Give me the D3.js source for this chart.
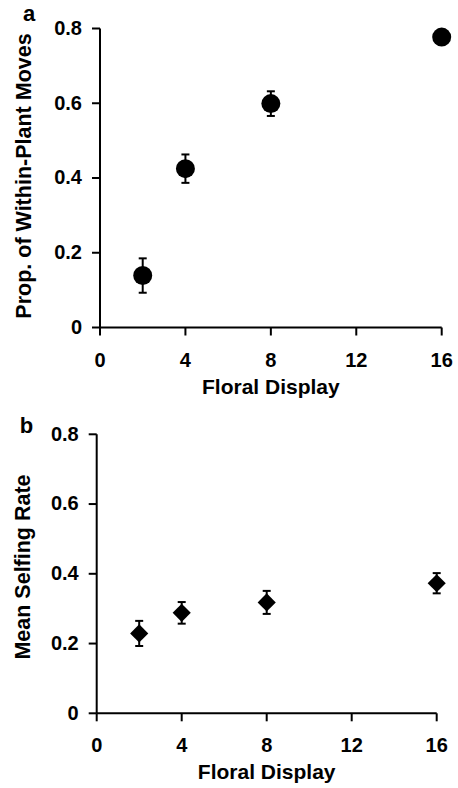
<!DOCTYPE html>
<html>
<head>
<meta charset="utf-8">
<script src="https://cdn.jsdelivr.net/npm/d3@7"></script>
<style>
  body { margin: 0; background: #fff; }
  svg text { font-family: "Liberation Sans", Arial, Helvetica, sans-serif; font-weight: bold; fill: #000; }
</style>
</head>
<body>
<svg id="chart" width="458" height="788"></svg>
<script>
// floral display (flowers per plant) on the x axis
const displaySizes = [2, 4, 8, 16];
const xTicks = [0, 4, 8, 12, 16];
const yTicks = [0, 0.2, 0.4, 0.6, 0.8];

// panel a: proportion of within-plant moves (mean +- se)
const withinPlantMoves = [0.139, 0.425, 0.599, 0.777];
const withinPlantErr = [0.046, 0.038, 0.033, 0.012];

// panel b: mean selfing rate (mean +- se)
const selfingRate = [0.229, 0.288, 0.318, 0.373];
const selfingErr = [0.036, 0.031, 0.033, 0.029];

const svg = d3.select('#chart');

function drawPanel(opt) {
  const x = d3.scaleLinear().domain([0, 16]).range([opt.left, opt.right]);
  const y = d3.scaleLinear().domain([0, 0.8]).range([opt.bottom, opt.top]);
  const g = svg.append('g');

  const xAxis = g.append('g')
    .attr('transform', `translate(0,${opt.bottom})`)
    .call(d3.axisBottom(x).tickValues(xTicks).tickSize(8).tickPadding(17).tickSizeOuter(0).offset(0));

  const yAxis = g.append('g')
    .attr('transform', `translate(${opt.left},0)`)
    .call(d3.axisLeft(y).tickValues(yTicks)
      .tickFormat(d => d === 0 ? '0' : d3.format('.1f')(d))
      .tickSize(8).tickPadding(10).tickSizeOuter(0).offset(0));

  [xAxis, yAxis].forEach(a => {
    a.select('.domain').attr('stroke', '#000').attr('stroke-width', 2);
    a.selectAll('.tick line').attr('stroke', '#000').attr('stroke-width', 2);
    a.selectAll('.tick text').style('font-size', '20px').attr('fill', '#000');
  });

  const pts = displaySizes.map((d, i) => ({ x: d, v: opt.values[i], e: opt.errors[i] }));

  // error bars
  const eb = g.append('g').attr('stroke', '#000').attr('stroke-width', 2);
  eb.selectAll('line.stem').data(pts).join('line')
    .attr('class', 'stem')
    .attr('x1', d => x(d.x)).attr('x2', d => x(d.x))
    .attr('y1', d => y(d.v - d.e)).attr('y2', d => y(d.v + d.e));
  eb.selectAll('line.cap-hi').data(pts).join('line')
    .attr('class', 'cap-hi')
    .attr('x1', d => x(d.x) - 4).attr('x2', d => x(d.x) + 4)
    .attr('y1', d => y(d.v + d.e)).attr('y2', d => y(d.v + d.e));
  eb.selectAll('line.cap-lo').data(pts).join('line')
    .attr('class', 'cap-lo')
    .attr('x1', d => x(d.x) - 4).attr('x2', d => x(d.x) + 4)
    .attr('y1', d => y(d.v - d.e)).attr('y2', d => y(d.v - d.e));

  // markers
  if (opt.marker === 'circle') {
    g.selectAll('circle.pt').data(pts).join('circle')
      .attr('class', 'pt')
      .attr('cx', d => x(d.x)).attr('cy', d => y(d.v))
      .attr('r', 9.5).attr('fill', '#000');
  } else {
    const diamond = d3.symbol(d3.symbolSquare).size(165);
    g.selectAll('path.pt').data(pts).join('path')
      .attr('class', 'pt')
      .attr('d', diamond)
      .attr('transform', d => `translate(${x(d.x)},${y(d.v)}) rotate(45)`)
      .attr('fill', '#000');
  }

  // axis titles
  g.append('text')
    .attr('x', (opt.left + opt.right) / 2)
    .attr('y', opt.bottom + 66)
    .attr('text-anchor', 'middle')
    .style('font-size', '21px')
    .text('Floral Display');

  g.append('text')
    .attr('transform', `translate(${opt.yTitleX},${opt.yTitleY}) rotate(-90)`)
    .attr('text-anchor', 'middle')
    .style('font-size', '21.5px')
    .text(opt.yTitle);

  // panel letter
  g.append('text')
    .attr('x', opt.letterX).attr('y', opt.letterY)
    .attr('text-anchor', 'middle')
    .style('font-size', '22px')
    .text(opt.letter);
}

drawPanel({
  left: 100, right: 441.7, top: 28.5, bottom: 327.5,
  values: withinPlantMoves, errors: withinPlantErr, marker: 'circle',
  yTitle: 'Prop. of Within-Plant Moves', yTitleX: 31, yTitleY: 176,
  letter: 'a', letterX: 29, letterY: 21
});

drawPanel({
  left: 96.7, right: 436.7, top: 434.3, bottom: 713.3,
  values: selfingRate, errors: selfingErr, marker: 'diamond',
  yTitle: 'Mean Selfing Rate', yTitleX: 30, yTitleY: 567,
  letter: 'b', letterX: 26.5, letterY: 433
});
</script>
</body>
</html>
